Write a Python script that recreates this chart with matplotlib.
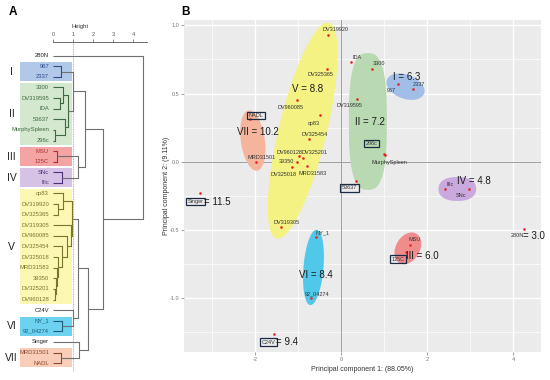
import numpy as np
import matplotlib
matplotlib.use('Agg')
import matplotlib.pyplot as plt
from matplotlib.patches import Rectangle, Polygon
from matplotlib import font_manager

avail = {f.name for f in font_manager.fontManager.ttflist}
narrow = 'Liberation Sans Narrow' if 'Liberation Sans Narrow' in avail else 'Liberation Sans'
plt.rcParams['font.family'] = [narrow, 'DejaVu Sans']

# ---------------- Dendrogram data (panel A) ----------------
leaves = ['280N', '967', '2337', '3300', 'DV319595', 'IDA', '53637', 'MurphySpleen', '296c',
          'MSU', '125C', 'SNc', 'IIIc', 'cp83', 'DV319920', 'DV325365', 'DV319305', 'DV960085',
          'DV325454', 'DV325018', 'MRD31583', '39350', 'DV325201', 'DV960128', 'C24V', 'NY_1',
          '92_04274', 'Singer', 'MRD31501', 'NADL']
leaf_cluster = [None, 'I', 'I', 'II', 'II', 'II', 'II', 'II', 'II', 'III', 'III', 'IV', 'IV',
                'V', 'V', 'V', 'V', 'V', 'V', 'V', 'V', 'V', 'V', 'V', None, 'VI', 'VI', None,
                'VII', 'VII']
# (node, child_a, child_b, height)
merges = [
    ('nI', '967', '2337', 0.40),
    ('n2', 'DV319595', 'IDA', 0.36),
    ('n3', '3300', 'n2', 0.48),
    ('n4', 'MurphySpleen', '296c', 0.12),
    ('n5', '53637', 'n4', 0.62),
    ('nII', 'n3', 'n5', 0.77),
    ('nI_II', 'nI', 'nII', 0.98),
    ('nIII', 'MSU', '125C', 0.22),
    ('nIV', 'SNc', 'IIIc', 0.45),
    ('nIII_IV', 'nIII', 'nIV', 1.27),
    ('nI_IV', 'nI_II', 'nIII_IV', 1.62),
    ('v1', 'DV319920', 'DV325365', 0.27),
    ('v2', 'cp83', 'v1', 0.52),
    ('v3', 'DV325201', 'DV960128', 0.10),
    ('v4', '39350', 'v3', 0.15),
    ('v5', 'MRD31583', 'v4', 0.22),
    ('v6', 'DV325018', 'v5', 0.27),
    ('v7', 'DV325454', 'v6', 0.43),
    ('v8', 'DV960085', 'v7', 0.68),
    ('v9', 'DV319305', 'v8', 0.92),
    ('nV', 'v2', 'v9', 0.97),
    ('nVI', 'NY_1', '92_04274', 0.45),
    ('nC_VI', 'C24V', 'nVI', 1.00),
    ('nV_VI', 'nV', 'nC_VI', 1.27),
    ('nVII', 'MRD31501', 'NADL', 0.38),
    ('nS_VII', 'Singer', 'nVII', 1.32),
    ('nV_VII', 'nV_VI', 'nS_VII', 1.77),
    ('nA', 'nI_IV', 'nV_VII', 2.52),
    ('root', '280N', 'nA', 4.48),
]
cluster_names = ['I', 'II', 'III', 'IV', 'V', 'VI', 'VII']
height_ticks = [0, 1, 2, 3, 4]

# ---------------- PCA data (panel B) ----------------
names = ['DV319920', 'DV325365', 'IDA', '3300', 'DV960085', 'DV319595', 'cp83', 'DV325454',
         'DV960128', 'DV325201', '39350', 'MRD31583', 'DV325018', 'NADL', 'MRD31501', '53637',
         '296c', 'MurphySpleen', '967', '2337', 'IIIc', 'SNc', '280N', 'MSU', '125C', 'Singer',
         'DV319305', 'NY_1', '92_04274', 'C24V']
pc1 = [-0.31, -0.33, 0.23, 0.73, -1.03, 0.37, -0.50, -0.74, -0.97, -0.89, -1.03, -0.78, -1.15,
       -2.12, -1.98, 0.36, 0.99, 1.02, 1.33, 1.67, 2.43, 2.98, 4.26, 1.60, 1.51, -3.28, -1.40,
       -0.58, -0.70, -1.55]
pc2 = [0.93, 0.68, 0.73, 0.68, 0.45, 0.46, 0.34, 0.17, 0.04, 0.03, 0.00, -0.03, -0.04, 0.31,
       0.00, -0.14, 0.053, 0.05, 0.57, 0.53, -0.20, -0.20, -0.49, -0.61, -0.66, -0.23, -0.48,
       -0.55, -1.00, -1.26]
pt_cluster = ['V', 'V', 'II', 'II', 'V', 'II', 'V', 'V', 'V', 'V', 'V', 'V', 'V', 'VII', 'VII',
              'II', 'II', 'II', 'I', 'I', 'IV', 'IV', None, 'III', 'III', None, 'V', 'VI', 'VI', None]
cluster_values = {'I': '6.3', 'II': '7.2', 'III': '6.0', 'IV': '4.8', 'V': '8.8', 'VI': '8.4',
                  'VII': '10.2'}
single_values = {'280N': '3.0', 'C24V': '9.4', 'Singer': '11.5'}
boxed = ['NADL', '53637', '296c', '125C', 'Singer', 'C24V']
x_ticks = [-2, 0, 2, 4]
y_ticks = [-1.0, -0.5, 0.0, 0.5, 1.0]

# ---------------- styles ----------------
box_colors = {'I': '#b2c8e8', 'II': '#d4e8cf', 'III': '#f4a4a4', 'IV': '#d6c2e5',
              'V': '#fcf8b3', 'VI': '#6cd2ef', 'VII': '#f9cdb7'}
line_colors = {'I': '#2c4c8c', 'II': '#3f6a3f', 'III': '#a83030', 'IV': '#4a2f7a',
               'V': '#77772c', 'VI': '#1d5f7c', 'VII': '#8a4a2e'}
blob_colors = {'I': '#a0bee7', 'II': '#b8d9b1', 'III': '#f08c8c', 'IV': '#c9a9de',
               'V': '#f3f283', 'VI': '#50c8ea', 'VII': '#f5b49c'}
GRAY = '#707070'

# label offsets (pixels, x right / y up) for point labels
lab_off = {
    'DV319920': (8, 5), 'DV325365': (-6, -6), 'IDA': (6, 4.5), '3300': (7, 5),
    'DV960085': (-6, -7), 'DV319595': (-7, -7), 'cp83': (-6, -8), 'DV325454': (5, 4),
    'DV960128': (-10, 4), 'DV325201': (12, 5.5), '39350': (-10, 0), 'MRD31583': (5, -8),
    'DV325018': (-8, -7), 'NADL': (6, 4), 'MRD31501': (6, 4), '53637': (-7, -7),
    '296c': (-12, 11), 'MurphySpleen': (5, -8), '967': (-7, -6.5), '2337': (6, 5),
    'IIIc': (5, 4), 'SNc': (-8, -7), '280N': (-7, -7), 'MSU': (4.5, 5), '125C': (-8, -7.5),
    'Singer': (-4.5, -8.5), 'DV319305': (6, 4.5), 'NY_1': (6, 4), '92_04274': (6, 4),
    'C24V': (-6, -8.7)}
cluster_text_pos = {'I': (1.53, 0.62), 'II': (0.67, 0.29), 'III': (1.90, -0.69),
                    'IV': (3.08, -0.14), 'V': (-0.77, 0.53), 'VI': (-0.58, -0.83),
                    'VII': (-1.93, 0.215)}
# blob shape: (pad along major axis, pad across, superellipse exponent, PCA-oriented?)
blob_style = {'I': (12, 12, 2, True), 'II': (9, 2, 2.8, False), 'III': (13, 12, 2, True),
              'IV': (7, 12, 2.3, True), 'V': (12, 11, 2, True), 'VI': (7, 10, 2, True),
              'VII': (9, 12, 2, True)}

W, H = 550, 380
fig = plt.figure(figsize=(W / 100, H / 100), dpi=100)

# ================= Panel A: dendrogram =================
axd = fig.add_axes([0, 0, 160 / W, 1])
axd.set_xlim(-53 / 20, (160 - 53) / 20)
axd.set_ylim((380 - 55.7) / 10.6, -55.7 / 10.6)
for s in ['left', 'right', 'bottom']:
    axd.spines[s].set_visible(False)
axd.set_yticks([])
axd.spines['top'].set_position(('data', -1.26))
axd.spines['top'].set_bounds(0, 4.7)
axd.spines['top'].set_color('#555555')
axd.spines['top'].set_linewidth(0.6)
axd.xaxis.set_ticks_position('top')
axd.xaxis.set_label_position('top')
axd.set_xticks(height_ticks)
axd.tick_params(axis='x', length=2.5, width=0.5, colors='#555555', labelsize=4, pad=1.5)
axd.set_xlabel('Height', fontsize=4.2, labelpad=3, color='#333333')
axd.patch.set_alpha(0)

idx = {n: i for i, n in enumerate(leaves)}
for c in cluster_names:
    members = [idx[n] for n, lc in zip(leaves, leaf_cluster) if lc == c]
    y0, y1 = min(members) - 0.38, max(members) + 0.4
    axd.add_patch(Rectangle((-1.65, y0), 0.95 + 1.65, y1 - y0, fc=box_colors[c], ec='none', zorder=0))
    axd.text(-2.07, (y0 + y1) / 2, c, ha='center', va='center', fontsize=7.5, color='#222222')

pos = {n: (0.0, float(i)) for i, n in enumerate(leaves)}
clus = dict(zip(leaves, leaf_cluster))
for node, a, b, h in merges:
    c = clus[a] if (clus[a] == clus[b]) else None
    col = line_colors.get(c, GRAY)
    for ch in (a, b):
        hc, yc = pos[ch]
        axd.plot([hc, h], [yc, yc], color=col, lw=0.8, solid_capstyle='butt', zorder=3)
    axd.plot([h, h], [pos[a][1], pos[b][1]], color=col, lw=0.8, zorder=3)
    pos[node] = (h, (pos[a][1] + pos[b][1]) / 2)
    clus[node] = c

for n, lc in zip(leaves, leaf_cluster):
    axd.text(-0.2, idx[n], n, ha='right', va='center', fontsize=4.2,
             color=line_colors.get(lc, '#222222'))

axd.plot([1, 1], [-1.26, 29.7], color='#9a9a9a', lw=0.6, ls=(0, (1, 1)), zorder=2)
fig.text(13 / W, 1 - 12 / H, 'A', fontsize=8.5, fontweight='bold', ha='center', va='center')

# ================= Panel B: PCA =================
px0, px1, py0, py1 = 184, 541, 20, 352
ax = fig.add_axes([px0 / W, 1 - py1 / H, (px1 - px0) / W, (py1 - py0) / H])
ax.set_xlim((px0 - 341) / 43, (px1 - 341) / 43)
ax.set_ylim((161.7 - py1) / 136.4, (161.7 - py0) / 136.4)
ax.set_facecolor('#ebebeb')
for s in ax.spines.values():
    s.set_visible(False)
ax.set_xticks(x_ticks)
ax.set_xticklabels([str(t) for t in x_ticks])
ax.set_yticks(y_ticks)
ax.set_yticklabels(['%.1f' % t for t in y_ticks])
ax.set_xticks([-3, -1, 1, 3], minor=True)
ax.set_yticks([-1.25, -0.75, -0.25, 0.25, 0.75], minor=True)
ax.grid(which='major', color='white', lw=1.0, zorder=0)
ax.grid(which='minor', color='white', lw=0.5, zorder=0)
ax.set_axisbelow(True)
ax.tick_params(which='major', length=2, width=0.5, colors='#777777', labelsize=4, pad=1.5)
ax.tick_params(which='minor', length=0)
ax.set_xlabel('Principal component 1: (88.05%)', fontsize=5, color='#333333', labelpad=3)
ax.set_ylabel('Principal component 2: (9.11%)', fontsize=5, color='#333333', labelpad=0)
ax.axhline(0, color='#9c9c9c', lw=0.7, zorder=1)
ax.axvline(0, color='#9c9c9c', lw=0.7, zorder=1)


def blob_shape(disp, pad_a, pad_b, expo, oriented):
    """Padded (super)ellipse in display space around a cluster's points."""
    mean = disp.mean(axis=0)
    d = disp - mean
    if oriented:
        w, v = np.linalg.eigh(d.T @ d)
        major = v[:, np.argmax(w)]
    else:
        major = np.array([0.0, 1.0]) if np.ptp(d[:, 1]) > np.ptp(d[:, 0]) else np.array([1.0, 0.0])
    minor = np.array([-major[1], major[0]])
    u = d @ major
    vv = d @ minor
    cu = (u.max() + u.min()) / 2
    cv = (vv.max() + vv.min()) / 2
    a = (u.max() - u.min()) / 2 + pad_a
    b = (vv.max() - vv.min()) / 2 + pad_b
    ctr = mean + cu * major + cv * minor
    t = np.linspace(0, 2 * np.pi, 180)
    ct, st = np.cos(t), np.sin(t)
    cu_ = np.sign(ct) * np.abs(ct) ** (2 / expo)
    su_ = np.sign(st) * np.abs(st) ** (2 / expo)
    return ctr + np.outer(a * cu_, major) + np.outer(b * su_, minor)


pc1a, pc2a = np.array(pc1), np.array(pc2)
for c in cluster_names:
    m = np.array([pc == c for pc in pt_cluster])
    disp = ax.transData.transform(np.column_stack([pc1a[m], pc2a[m]]))
    shape = blob_shape(disp, *blob_style[c])
    poly = ax.transData.inverted().transform(shape)
    ax.add_patch(Polygon(poly, closed=True, fc=blob_colors[c], ec='none', zorder=1.5))
    tx, ty = cluster_text_pos[c]
    ax.text(tx, ty, '%s = %s' % (c, cluster_values[c]), fontsize=7, ha='center', va='center',
            color='#1a1a1a', zorder=4)

ax.scatter(pc1a, pc2a, s=3.5, color='#e8231f', zorder=3, linewidths=0)

for n, x, y in zip(names, pc1, pc2):
    dx, dy = lab_off[n]
    kw = dict(fontsize=4, ha='center', va='center', color='#333333', zorder=4,
              textcoords='offset pixels')
    if n in boxed:
        kw['bbox'] = dict(boxstyle='square,pad=0.25', fc='none', ec='#1c2b45', lw=0.9)
    ax.annotate(n, (x, y), xytext=(dx, dy), **kw)
    if n in single_values:
        half = {'Singer': 8.5, 'C24V': 8, '280N': 5.5}[n]
        ax.annotate('= %s' % single_values[n], (x, y), xytext=(dx + half, dy),
                    textcoords='offset pixels', fontsize=7, ha='left', va='center',
                    color='#1a1a1a', zorder=4)

fig.text(186 / W, 1 - 12 / H, 'B', fontsize=8.5, fontweight='bold', ha='center', va='center')

fig.savefig('out.png', dpi=100)
